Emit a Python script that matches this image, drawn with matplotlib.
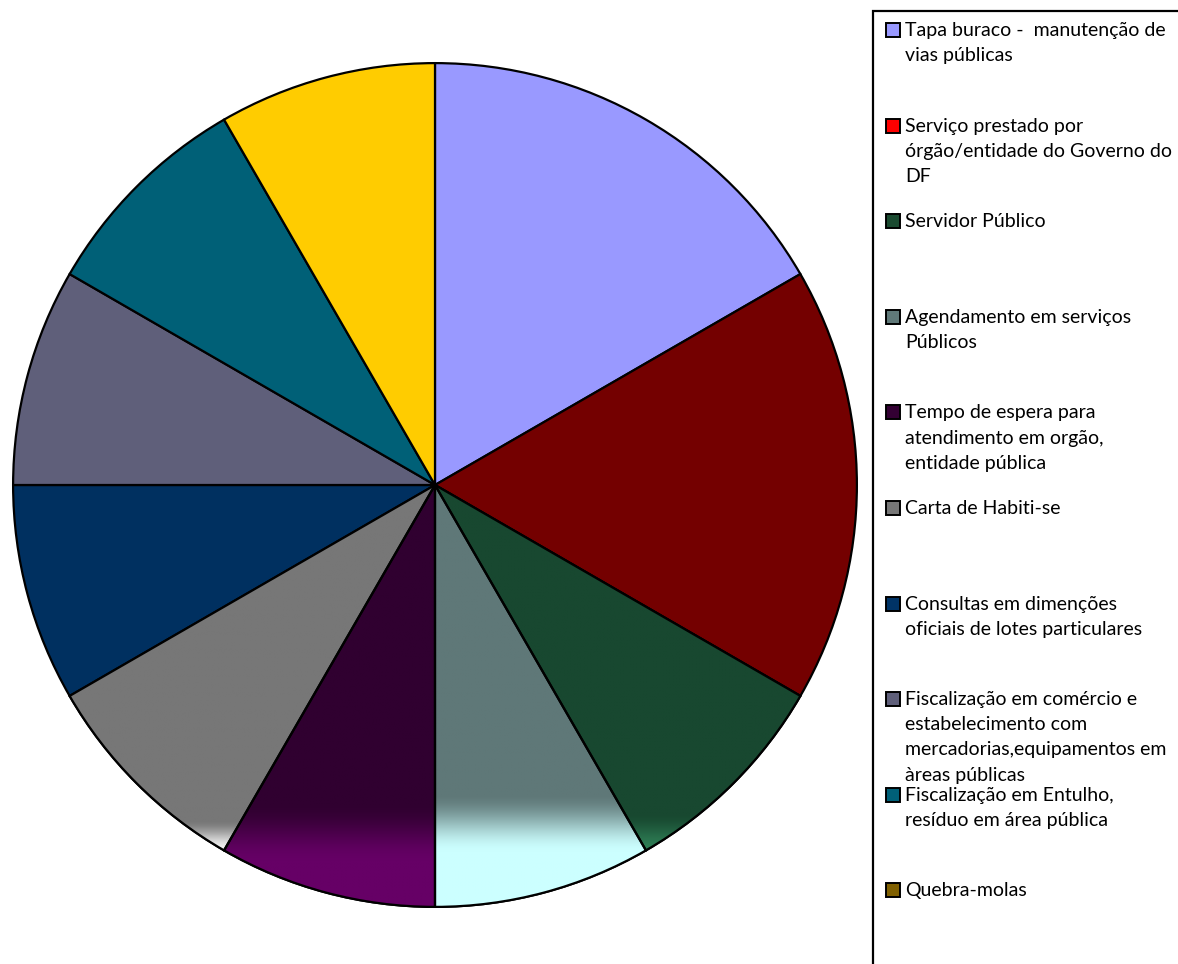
import numpy as np
import matplotlib
matplotlib.use("Agg")
import matplotlib.pyplot as plt
from matplotlib.patches import Rectangle, Wedge
from matplotlib.colors import LinearSegmentedColormap

labels = [
    "Tapa buraco -  manutenção de\nvias públicas",
    "Serviço prestado por\nórgão/entidade do Governo do\nDF",
    "Servidor Público",
    "Agendamento em serviços\nPúblicos",
    "Tempo de espera para\natendimento em orgão,\nentidade pública",
    "Carta de Habiti-se",
    "Consultas em dimenções\noficiais de lotes particulares",
    "Fiscalização em comércio e\nestabelecimento com\nmercadorias,equipamentos em\nàreas públicas",
    "Fiscalização em Entulho,\nresíduo em área pública",
    "Quebra-molas",
]
values = [2, 2, 1, 1, 1, 1, 1, 1, 1, 1]
slice_colors = ["#9999FF", "#740000", "#184830", "#5F7878", "#300030",
                "#777777", "#003060", "#5F5F7A", "#006077", "#FFCC00"]
legend_colors = ["#9999FF", "#FF0000", "#1A4A30", "#5F7878", "#330033",
                 "#777777", "#003366", "#5F5F7A", "#006078", "#806000"]
# vertical gradients on some slices: (index, start_px, end_px, top colour, bottom colour)
gradients = [
    (2, 815, 852, "#184830", "#2E7D55"),
    (3, 795, 855, "#5F7878", "#CCFFFF"),
    (4, 805, 865, "#300030", "#660066"),
    (5, 822, 852, "#777777", "#F2F2F2"),
]

W, H = 1178, 964
fig = plt.figure(figsize=(W / 100, H / 100), dpi=100)
cx, cy, r = 435, 485, 424
ax = fig.add_axes([(cx - r) / W, (H - cy - r) / H, 2 * r / W, 2 * r / H])

wedges, _ = ax.pie(values, colors=slice_colors, startangle=90, counterclock=False,
                   radius=1, center=(0, 0), frame=False,
                   wedgeprops=dict(edgecolor="black", linewidth=1.6))
ax.set_aspect("auto")
ax.axis("off")

for idx, p0, p1, c0, c1 in gradients:
    w = wedges[idx]
    ys = np.linspace(1, -1, 800)
    ppx = cy - ys * r
    t = np.clip((ppx - p0) / (p1 - p0), 0, 1)
    t = t * t * (3 - 2 * t)
    cmap = LinearSegmentedColormap.from_list("g%d" % idx, [c0, c1])
    img = t[:, None] * np.ones((1, 4))
    im = ax.imshow(img, cmap=cmap, vmin=0, vmax=1, extent=(-1, 1, -1, 1),
                   origin="upper", aspect="auto", zorder=w.get_zorder() + 0.1,
                   interpolation="bilinear")
    im.set_clip_path(w)
    e = Wedge((0, 0), 1, w.theta1, w.theta2, facecolor="none",
              edgecolor="black", linewidth=1.6, zorder=w.get_zorder() + 0.2)
    ax.add_patch(e)
ax.set_xlim(-1.005, 1.005)
ax.set_ylim(-1.005, 1.005)

# Legend box
fig.patches.append(Rectangle((873 / W, -0.05), 1.0, (H - 11) / H + 0.05,
                             transform=fig.transFigure, facecolor="none",
                             edgecolor="black", linewidth=1.6))

for i, (lab, col) in enumerate(zip(labels, legend_colors)):
    yc = 30 + i * 95.6
    fig.patches.append(Rectangle((886 / W, (H - yc - 7) / H), 14 / W, 14 / H,
                                 transform=fig.transFigure, facecolor=col,
                                 edgecolor="black", linewidth=1.4))
    fig.text(905 / W, (H - yc + 8) / H, lab, fontsize=14, family="Lato",
             ha="left", va="top", linespacing=1.58, color="black")

fig.savefig("out.png", dpi=100)
